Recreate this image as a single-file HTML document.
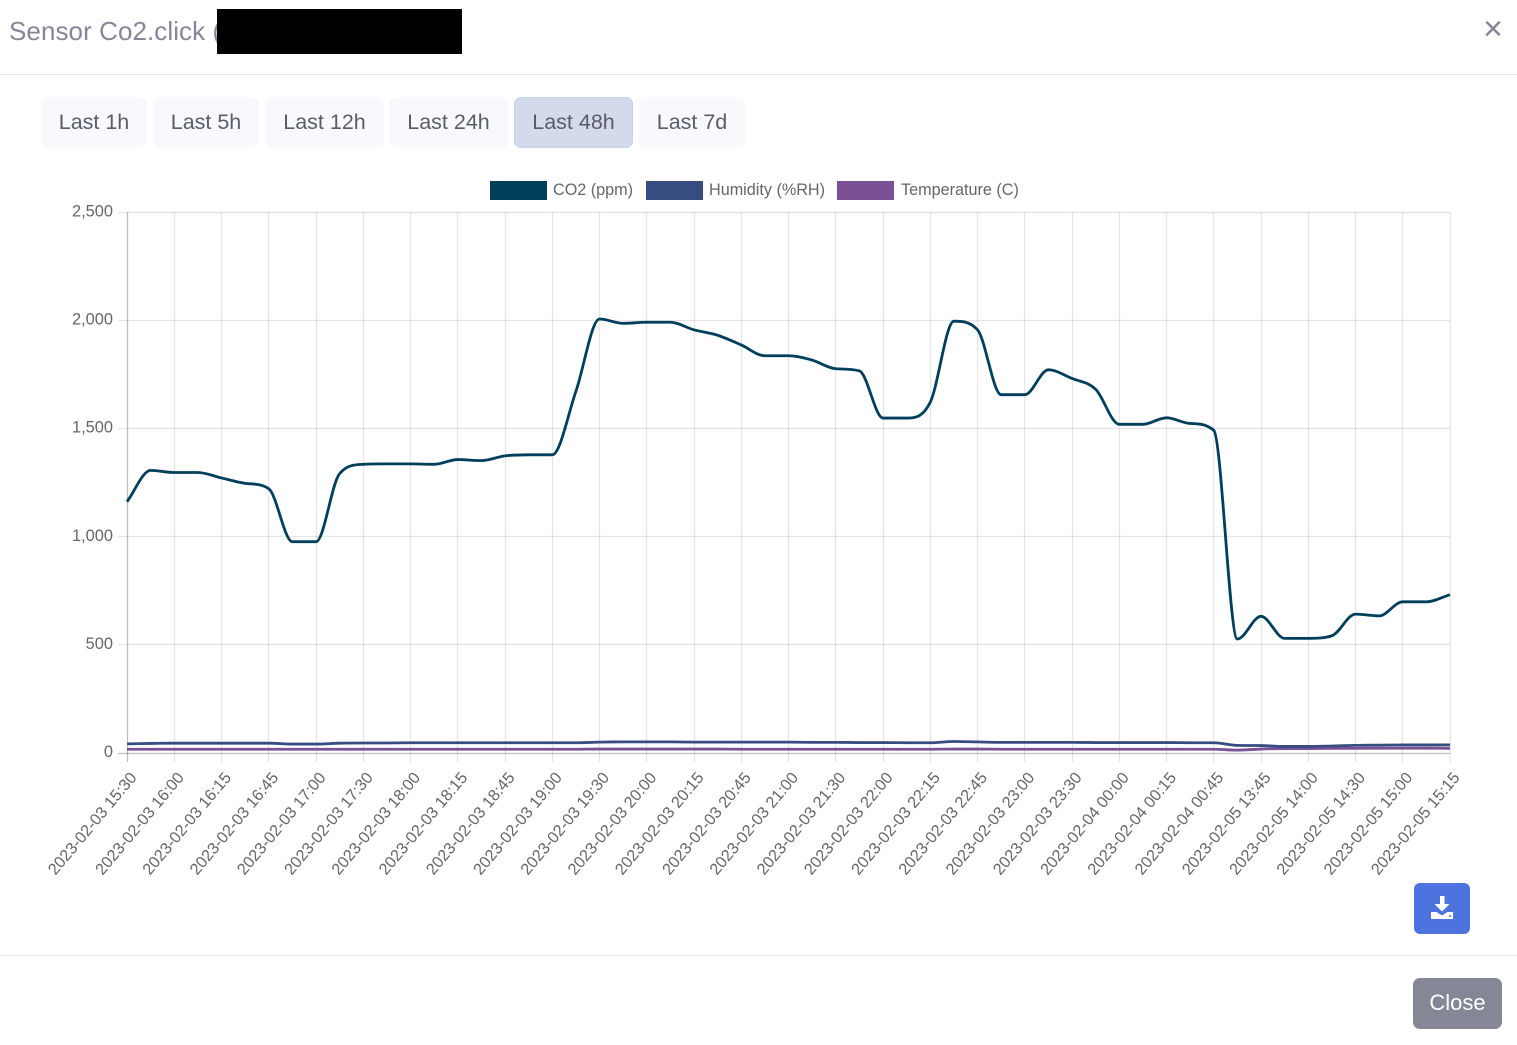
<!DOCTYPE html>
<html lang="en">
<head>
<meta charset="utf-8">
<title>Sensor Co2.click</title>
<style>
html,body{margin:0;padding:0;background:#fff;}
body{width:1517px;height:1045px;position:relative;overflow:hidden;font-family:"Liberation Sans",sans-serif;}
.abs{position:absolute;box-sizing:border-box;}
.range{top:97px;height:51px;background:#f8f9fc;border-radius:7px;color:#5a5c69;font-size:21.5px;line-height:51px;text-align:center;white-space:nowrap;}
.range.active{background:#d3daeb;border:1px solid #c9d2e6;line-height:49px;}
#chart{position:absolute;left:0;top:0;}
</style>
</head>
<body>
<div class="abs" style="left:9px;top:15px;font-size:26px;letter-spacing:0.07px;line-height:32px;color:#858796;white-space:nowrap;">Sensor Co2.click (</div>
<div class="abs" style="left:217px;top:9px;width:245px;height:45px;background:#000;"></div>
<div class="abs" style="left:1478px;top:9px;width:30px;height:40px;font-size:34px;line-height:40px;text-align:center;color:#858796;">×</div>
<div class="abs" style="left:0;top:74px;width:1517px;height:1px;background:#e3e6f0;"></div>

<div class="abs range" style="left:41px;width:106px;">Last 1h</div>
<div class="abs range" style="left:153px;width:106px;">Last 5h</div>
<div class="abs range" style="left:265px;width:119px;">Last 12h</div>
<div class="abs range" style="left:389px;width:119px;">Last 24h</div>
<div class="abs range active" style="left:514px;width:119px;">Last 48h</div>
<div class="abs range" style="left:639px;width:106px;">Last 7d</div>

<svg id="chart" width="1517" height="890" viewBox="0 0 1517 890" xmlns="http://www.w3.org/2000/svg">
  <g id="grid"></g>
  <g id="y-axis"></g>
  <g id="x-axis"></g>
  <g id="series"></g>
  <g id="legend">
    <g>
      <rect x="490" y="181" width="57" height="19" fill="#003f5c"/>
      <text x="553" y="195" font-size="16.2" fill="#666">CO2 (ppm)</text>
    </g>
    <g>
      <rect x="646" y="181" width="57" height="19" fill="#374c80"/>
      <text x="709" y="195" font-size="16.2" fill="#666">Humidity (%RH)</text>
    </g>
    <g>
      <rect x="837" y="181" width="57" height="19" fill="#7a5195"/>
      <text x="901" y="195" font-size="16.2" fill="#666">Temperature (C)</text>
    </g>
  </g>
</svg>

<div class="abs" style="left:1414px;top:883px;width:56px;height:51px;background:#4e73df;border-radius:6px;">
  <svg width="56" height="51" viewBox="0 0 56 51" xmlns="http://www.w3.org/2000/svg">
    <path d="M26 13h4.500v8h5l-7.500 7.500-7.500-7.500h5.500z" fill="#fff"/>
    <path d="M17 29h5.500l5.500 3.500 5.500-3.500h5.500v7H17z" fill="#fff"/>
    <circle cx="36" cy="33" r="1" fill="#4e73df"/>
  </svg>
</div>
<div class="abs" style="left:0;top:955px;width:1517px;height:1px;background:#e3e6f0;"></div>
<div class="abs" style="left:1413px;top:978px;width:89px;height:51px;background:#858796;border-radius:7px;color:#fff;font-size:22px;line-height:50px;text-align:center;">Close</div>

<script>
var tickLabels = ["2023-02-03 15:30","2023-02-03 16:00","2023-02-03 16:15","2023-02-03 16:45","2023-02-03 17:00","2023-02-03 17:30","2023-02-03 18:00","2023-02-03 18:15","2023-02-03 18:45","2023-02-03 19:00","2023-02-03 19:30","2023-02-03 20:00","2023-02-03 20:15","2023-02-03 20:45","2023-02-03 21:00","2023-02-03 21:30","2023-02-03 22:00","2023-02-03 22:15","2023-02-03 22:45","2023-02-03 23:00","2023-02-03 23:30","2023-02-04 00:00","2023-02-04 00:15","2023-02-04 00:45","2023-02-05 13:45","2023-02-05 14:00","2023-02-05 14:30","2023-02-05 15:00","2023-02-05 15:15"];
var yTickValues = [0,500,1000,1500,2000,2500];
var yTickLabels = ["0","500","1,000","1,500","2,000","2,500"];
var co2Values = [1160,1305,1295,1295,1270,1245,1220,975,975,1290,1333,1335,1335,1333,1355,1350,1372,1377,1377,1670,2005,1985,1990,1990,1955,1930,1885,1835,1835,1815,1775,1765,1547,1547,1620,1995,1955,1655,1655,1770,1730,1680,1518,1518,1548,1522,1490,525,630,528,528,540,640,632,697,697,730];
var humidityValues = [40,42,43,43,43,43,43,39,39,43,44,44,45,45,45,45,45,45,45,45,48,49,49,49,48,48,48,48,48,47,47,46,46,45,45,51,49,47,47,47,47,46,46,46,46,45,45,33,32,28,28,30,33,34,35,35,35];
var temperatureValues = [15,15,15,15,15,15,15,15,15,15,15,15,15,15,15,15,15,15,15,15,16,16,16,16,16,16,15,15,15,15,15,15,15,15,15,16,16,15,15,15,15,15,15,15,15,15,15,11,16,18,18,19,19,20,20,20,19];

var NS = "http://www.w3.org/2000/svg";
var plotLeft = 127, plotRight = 1450, plotTop = 212, plotBottom = 752.5, yMax = 2500;
function xScale(i){ return plotLeft + i * (plotRight - plotLeft) / (co2Values.length - 1); }
function yScale(v){ return plotBottom - v * (plotBottom - plotTop) / yMax; }

function monotonePath(values){
  var n = values.length, pts = [], d = [], m = [], i;
  for(i = 0; i < n; i++){ pts.push([xScale(i), yScale(values[i])]); }
  for(i = 0; i < n - 1; i++){ d.push((pts[i+1][1] - pts[i][1]) / (pts[i+1][0] - pts[i][0])); }
  m[0] = d[0];
  m[n-1] = d[n-2];
  for(i = 1; i < n - 1; i++){ m[i] = d[i-1] * d[i] <= 0 ? 0 : (d[i-1] + d[i]) / 2; }
  for(i = 0; i < n - 1; i++){
    if(d[i] === 0){ m[i] = 0; m[i+1] = 0; continue; }
    var a = m[i] / d[i], b = m[i+1] / d[i], s = a*a + b*b;
    if(s > 9){ var t = 3 / Math.sqrt(s); m[i] = t*a*d[i]; m[i+1] = t*b*d[i]; }
  }
  var path = "M" + pts[0][0].toFixed(2) + " " + pts[0][1].toFixed(2);
  for(i = 0; i < n - 1; i++){
    var h = (pts[i+1][0] - pts[i][0]) / 3;
    path += "C" + (pts[i][0] + h).toFixed(2) + " " + (pts[i][1] + m[i]*h).toFixed(2) + " " +
            (pts[i+1][0] - h).toFixed(2) + " " + (pts[i+1][1] - m[i+1]*h).toFixed(2) + " " +
            pts[i+1][0].toFixed(2) + " " + pts[i+1][1].toFixed(2);
  }
  return path;
}

var gridGroup = document.getElementById("grid");
var yAxisGroup = document.getElementById("y-axis");
var xAxisGroup = document.getElementById("x-axis");
var seriesGroup = document.getElementById("series");

yTickValues.forEach(function(v, k){
  var py = Math.round(yScale(v)) + 0.5;
  var line = document.createElementNS(NS, "line");
  
  
  line.setAttribute("x1", 118);
  line.setAttribute("x2", plotRight);
  line.setAttribute("y1", py);
  line.setAttribute("y2", py);
  line.setAttribute("stroke", k === 0 ? "rgba(0,0,0,0.25)" : "rgba(0,0,0,0.1)");
  line.setAttribute("stroke-width", "1.3");
  gridGroup.appendChild(line);
  var label = document.createElementNS(NS, "text");
  
  
  label.setAttribute("x", 113);
  label.setAttribute("y", yScale(v) + 4.5);
  label.setAttribute("text-anchor", "end");
  label.setAttribute("font-size", "16.4");
  label.setAttribute("fill", "#666");
  label.textContent = yTickLabels[k];
  yAxisGroup.appendChild(label);
});

tickLabels.forEach(function(text, k){
  var px = Math.floor(xScale(k * 2)) + 0.5;
  var line = document.createElementNS(NS, "line");
  
  
  line.setAttribute("x1", px);
  line.setAttribute("x2", px);
  line.setAttribute("y1", plotTop);
  line.setAttribute("y2", 762);
  line.setAttribute("stroke", k === 0 ? "rgba(0,0,0,0.25)" : "rgba(0,0,0,0.1)");
  line.setAttribute("stroke-width", "1.3");
  gridGroup.appendChild(line);
  var label = document.createElementNS(NS, "text");
  var ax = xScale(k * 2) + 10.5;
  var ay = 778;
  
  
  label.setAttribute("x", ax);
  label.setAttribute("y", ay);
  label.setAttribute("text-anchor", "end");
  label.setAttribute("font-size", "16.2");
  label.setAttribute("fill", "#666");
  label.setAttribute("transform", "rotate(-50 " + ax + " " + ay + ")");
  label.textContent = text;
  xAxisGroup.appendChild(label);
});

var temperatureLine = document.createElementNS(NS, "path");


temperatureLine.setAttribute("d", monotonePath(temperatureValues));
temperatureLine.setAttribute("fill", "none");
temperatureLine.setAttribute("stroke", "#7a5195");
temperatureLine.setAttribute("stroke-width", "2.8");
seriesGroup.appendChild(temperatureLine);

var humidityLine = document.createElementNS(NS, "path");


humidityLine.setAttribute("d", monotonePath(humidityValues));
humidityLine.setAttribute("fill", "none");
humidityLine.setAttribute("stroke", "#374c80");
humidityLine.setAttribute("stroke-width", "2.8");
seriesGroup.appendChild(humidityLine);

var co2Line = document.createElementNS(NS, "path");


co2Line.setAttribute("d", monotonePath(co2Values));
co2Line.setAttribute("fill", "none");
co2Line.setAttribute("stroke", "#003f5c");
co2Line.setAttribute("stroke-width", "2.8");
seriesGroup.appendChild(co2Line);
</script>
</body>
</html>
